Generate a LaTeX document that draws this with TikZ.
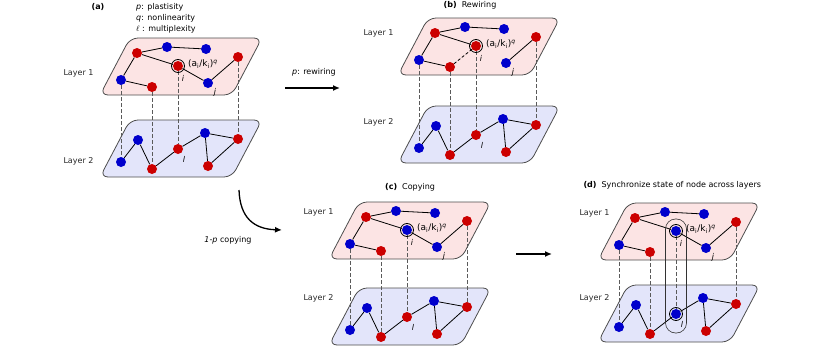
\documentclass[tikz,border=0pt]{standalone}
\usepackage{fontspec}
\setsansfont{DejaVu Sans}
\usetikzlibrary{arrows.meta, positioning, calc}
\definecolor{nred}{HTML}{CC0000}
\definecolor{nblue}{HTML}{0000CC}
\definecolor{pinkfill}{HTML}{FCE4E4}
\definecolor{bluefill}{HTML}{E3E5FA}
\definecolor{rim}{HTML}{4D4D4D}
\definecolor{tiegray}{HTML}{5A5A5A}

\begin{document}
\begin{tikzpicture}[x=1pt, y=-1pt,
    every node/.style={font=\sffamily\fontsize{8}{10.5}\selectfont},
    lab/.style={text=black!85},
    idx/.style={font=\sffamily\itshape\fontsize{8}{10}\selectfont, inner sep=0pt},
    rate/.style={font=\sffamily\fontsize{9}{10}\selectfont, anchor=west, inner sep=0pt},
    dot/.style={circle, fill=#1, inner sep=0pt, minimum size=10pt},
    plane/.style={draw=rim, line width=0.8pt, rounded corners=8pt, fill=#1},
    link/.style={line width=0.8pt},
    tie/.style={dash pattern=on 3.5pt off 2.5pt, line width=0.8pt, draw=tiegray},
    ring/.style={line width=0.8pt},
    capsule/.style={line width=0.6pt, draw=black!80, rounded corners=10pt},
    arr/.style={-{Latex[length=7pt, width=6pt]}, line width=1.3pt},
]
\useasboundingbox (0,0) rectangle (831,348);

% ================================================================ the four panels
\foreach \p/\dx/\dy/\g/\ci/\cl in {a/0/0/82/nred/nred, b/298/-20/88/nred/nred,
                                   c/229/164/86/nblue/nred, d/498/165/82/nblue/nblue}{
  \begin{scope}[shift={(\dx,\dy)}]
    % layer 1
    \draw[plane=pinkfill] (130,38) -- (262,38) -- (232,95) -- (100,95) -- cycle;
    \foreach \n/\x/\y/\col in {A/137/53/nred, B/167/47/nblue, C/206/49/nblue, i/178/66/\ci,
                               D/238/57/nred, E/121/80/nblue, F/152/87/nred, j/208/83/nblue}
      \node[dot=\col] (\p-\n) at (\x,\y) {};
    \node[idx] (\p-ilab) at (183,78) {i};
    \node[idx] (\p-jlab) at (215,92) {j};
    \node[rate] (\p-rate) at (188,64) {(a\textsubscript{i}/k\textsubscript{i})\textsuperscript{\itshape q}};
    % layer 2
    \begin{scope}[shift={(0,\g)}]
      \draw[plane=bluefill] (130,38) -- (262,38) -- (232,95) -- (100,95) -- cycle;
      \foreach \n/\x/\y/\col in {a/121/80/nblue, b/138/58/nblue, c/152/87/nred, l/178/67/\cl,
                                 e/205/51/nblue, f/238/57/nred, g/208/84/nred}
        \node[dot=\col] (\p-\n) at (\x,\y) {};
      \node[idx] (\p-llab) at (184,77) {l};
    \end{scope}
    \foreach \na/\nb in {A/B, B/C, A/i, A/E, E/F, j/D, a/b, b/c, c/l, l/e, e/f, e/g, g/f}
      \draw[link] (\p-\na) -- (\p-\nb);
    \foreach \na/\nb in {E/a, F/c, i/l, D/f}
      \draw[tie] (\p-\na) -- (\p-\nb);
    \draw[ring] (\p-i) circle[radius=6.5pt];
  \end{scope}
}

% the link i-j, which the rewiring swaps for i-F
\foreach \p in {a, c, d}{ \draw[link] (\p-i) -- (\p-j); }
\draw[link, dash pattern=on 3pt off 2pt] (b-i) -- (b-F);

% synchronised node
\draw[ring] (d-l) circle[radius=6.5pt];
\draw[capsule] ($(d-i)+(-10.5,-12)$) rectangle ($(d-l)+(10.5,19)$);

% ================================================================ titles
\node (ta) at (98,7) {\textbf{(a)}};
\node[anchor=north west, align=left, inner sep=0pt,
      font=\sffamily\fontsize{8}{11}\selectfont] (legend) at (136,3)
    {\textit{p}: plastisity\\ \textit{q}: nonlinearity\\ $\ell$ : multiplexity};
\node (tb) at (470,5) {\textbf{(b)}\ \ Rewiring};
\node (tc) at (410,187) {\textbf{(c)}\ \ Copying};
\node[anchor=west] (td) at (580,185) {\textbf{(d)}\ \ Synchronize state of node across layers};

\node[lab, anchor=east] (a-l1) at (97,73) {Layer 1};
\node[lab, anchor=east] (a-l2) at (97,161) {Layer 2};
\node[lab, anchor=east] (b-l1) at (397,33) {Layer 1};
\node[lab, anchor=east] (b-l2) at (397,122) {Layer 2};
\node[lab, anchor=east] (c-l1) at (337,212) {Layer 1};
\node[lab, anchor=east] (c-l2) at (337,298) {Layer 2};
\node[lab, anchor=east] (d-l1) at (613,213) {Layer 1};
\node[lab, anchor=east] (d-l2) at (613,298) {Layer 2};

% ================================================================ arrows
\coordinate (rw-from) at (285,88);
\coordinate (rw-to)   at (340,88);
\draw[arr] (rw-from) -- (rw-to);
\node (rw-lab) at (314,72) {\textit{p}: rewiring};

\coordinate (cp-from) at (239,190);
\coordinate (cp-to)   at (282,230);
\draw[arr] (cp-from) .. controls (240,218) and (254,229) .. (cp-to);
\node (cp-lab) at (228,240) {\textit{1-p} copying};

\coordinate (sy-from) at (516,254);
\coordinate (sy-to)   at (552,254);
\draw[arr] (sy-from) -- (sy-to);
\end{tikzpicture}
\end{document}
